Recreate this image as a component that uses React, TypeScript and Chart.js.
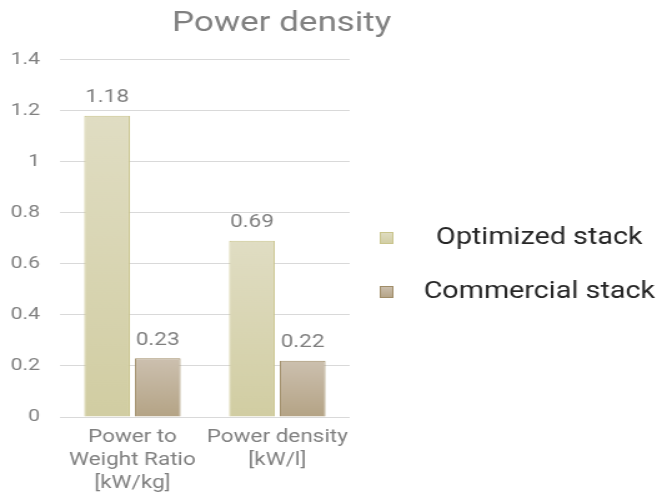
import React, { useEffect, useRef } from 'react';
import { Chart, registerables } from 'chart.js';

Chart.register(...registerables);

// ---- data ----
const chartTitle = 'Power density';
const categories: string[][] = [
  ['Power to', 'Weight Ratio', '[kW/kg]'],
  ['Power density', '[kW/l]'],
];
const seriesNames = ['Optimized stack', 'Commercial stack'];
const optimizedValues = [1.18, 0.69];
const commercialValues = [0.23, 0.22];
const yMin = 0;
const yMax = 1.4;
const yStep = 0.2;

// ---- look ----
const FONT = 'Roboto';
const W = 657;
const H = 492;
const SX = 1.25; // horizontal stretch of the rendering
const IW = Math.round(W / SX);

const optimizedStyle = { top: '#e0ddc3', bottom: '#d1cda2', border: '#c9c48c' };
const commercialStyle = { top: '#ccc0af', bottom: '#b4a385', border: '#a08d68' };

function barGradient(style: { top: string; bottom: string }) {
  return (ctx: any) => {
    const chart = ctx.chart;
    const y = chart.scales && chart.scales.y;
    if (!y || !ctx.parsed) return style.top;
    const p0 = y.getPixelForValue(0);
    const p1 = y.getPixelForValue(ctx.parsed.y);
    if (!isFinite(p0) || !isFinite(p1) || p0 === p1) return style.top;
    const g = chart.ctx.createLinearGradient(0, p1, 0, p0);
    g.addColorStop(0, style.top);
    g.addColorStop(1, style.bottom);
    return g;
  };
}

function makeIcon(style: { top: string; bottom: string; border: string }) {
  const c = document.createElement('canvas');
  c.width = 22;
  c.height = 12;
  const g = c.getContext('2d')!;
  const gr = g.createLinearGradient(0, 0, 0, 12);
  gr.addColorStop(0, style.top);
  gr.addColorStop(1, style.bottom);
  g.fillStyle = gr;
  g.fillRect(0.5, 0.5, 10, 11);
  g.strokeStyle = style.border;
  g.lineWidth = 1;
  g.strokeRect(0.5, 0.5, 10, 11);
  return c;
}

const tweakPlugin = {
  id: 'tweakLayout',
  afterLayout(chart: any) {
    const t = chart.titleBlock;
    if (t) {
      t.left = 0;
      t.right = chart.width - 75;
    }
    const lg = chart.legend;
    if (lg && lg.columnSizes && lg.columnSizes[0]) {
      lg.left -= 7;
      lg.width = lg.columnSizes[0].width;
      lg.top += 19;
      lg.bottom += 19;
    }
  },
};

const valueLabels = {
  id: 'valueLabels',
  afterDatasetsDraw(chart: any) {
    const ctx = chart.ctx;
    ctx.save();
    ctx.font = `18px ${FONT}`;
    ctx.fillStyle = '#7f7f7f';
    ctx.textAlign = 'center';
    ctx.textBaseline = 'middle';
    chart.data.datasets.forEach((ds: any, di: number) => {
      const meta = chart.getDatasetMeta(di);
      meta.data.forEach((el: any, i: number) => {
        ctx.fillText(String(ds.data[i]), el.x, el.y - 18);
      });
    });
    ctx.restore();
  },
};

export default function App() {
  const ref = useRef<HTMLCanvasElement | null>(null);

  useEffect(() => {
    if (!ref.current) return;
    const icons = [makeIcon(optimizedStyle), makeIcon(commercialStyle)];
    const styles = [optimizedStyle, commercialStyle];
    const chart = new Chart(ref.current, {
      type: 'bar',
      data: {
        labels: categories,
        datasets: [
          {
            label: seriesNames[0],
            data: optimizedValues,
            backgroundColor: barGradient(optimizedStyle),
            borderColor: optimizedStyle.border,
            borderWidth: 1,
            barPercentage: 0.9,
            categoryPercentage: 0.7,
          },
          {
            label: seriesNames[1],
            data: commercialValues,
            backgroundColor: barGradient(commercialStyle),
            borderColor: commercialStyle.border,
            borderWidth: 1,
            barPercentage: 0.9,
            categoryPercentage: 0.7,
          },
        ],
      },
      options: {
        responsive: false,
        animation: false,
        devicePixelRatio: 1,
        plugins: {
          title: {
            display: true,
            text: chartTitle,
            color: '#808080',
            font: { family: FONT, size: 28, weight: 'normal' },
            padding: { top: 7, bottom: 19 },
          },
          legend: {
            position: 'right',
            align: 'center',
            maxWidth: 246,
            labels: {
              usePointStyle: true,
              pointStyleWidth: 22,
              padding: 31,
              color: '#262626',
              textAlign: 'center',
              font: { family: FONT, size: 23 },
              generateLabels: (c: any) =>
                c.data.datasets.map((ds: any, i: number) => ({
                  text: ds.label,
                  fillStyle: styles[i].top,
                  strokeStyle: styles[i].border,
                  lineWidth: 1,
                  pointStyle: icons[i],
                  hidden: false,
                  datasetIndex: i,
                  fontColor: '#262626',
                })),
            },
          },
          tooltip: { enabled: false },
        },
        scales: {
          x: {
            grid: { display: false, drawTicks: false },
            border: { display: false },
            ticks: {
              color: '#808080',
              font: { family: FONT, size: 18, lineHeight: 1.27 },
              padding: 9,
              maxRotation: 0,
              autoSkip: false,
            },
            afterFit: (s: any) => {
              s.height = 75;
            },
          },
          y: {
            min: yMin,
            max: yMax,
            grid: { color: '#d9d9d9', drawTicks: false },
            border: { display: false },
            ticks: {
              stepSize: yStep,
              color: '#808080',
              font: { family: FONT, size: 17 },
              padding: 16,
              callback: (v: any) => String(Number(Number(v).toFixed(2))),
            },
            afterFit: (s: any) => {
              s.width = 48;
            },
          },
        },
      } as any,
      plugins: [tweakPlugin, valueLabels],
    });
    return () => chart.destroy();
  }, []);

  return (
    <div style={{ position: 'absolute', left: 0, top: 0, width: W, height: H, background: '#fff' }}>
      <canvas
        ref={ref}
        width={IW}
        height={H}
        style={{ display: 'block', width: `${W}px`, height: `${H}px` }}
      />
    </div>
  );
}
